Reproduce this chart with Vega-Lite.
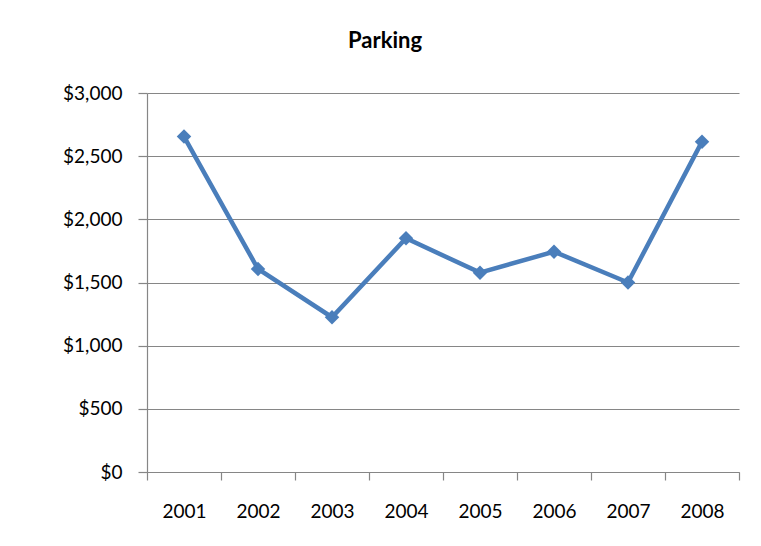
{
  "$schema": "https://vega.github.io/schema/vega-lite/v6.json",
  "width": 592,
  "height": 379,
  "autosize": "none",
  "padding": {"left": 147, "top": 93, "right": 22, "bottom": 74},
  "background": "white",
  "title": {"text": "Parking", "fontSize": 22, "fontWeight": "bold", "font": "Lato", "color": "#000000", "offset": 31, "dx": -58, "anchor": "middle"},
  "data": {"values": [
    {"year": "2001", "cost": 2655},
    {"year": "2002", "cost": 1607},
    {"year": "2003", "cost": 1225},
    {"year": "2004", "cost": 1850},
    {"year": "2005", "cost": 1578},
    {"year": "2006", "cost": 1744},
    {"year": "2007", "cost": 1500},
    {"year": "2008", "cost": 2615}
  ]},
  "config": {
    "view": {"stroke": null},
    "font": "Lato",
    "axis": {"labelFont": "Lato", "labelFontSize": 19, "labelColor": "#000000", "domainColor": "#868686", "tickColor": "#868686", "gridColor": "#868686", "domainWidth": 1.2, "tickWidth": 1.2, "title": null}
  },
  "encoding": {
    "x": {"field": "year", "type": "ordinal", "scale": {"paddingInner": 0, "paddingOuter": 0},
      "axis": {"labelAngle": 0, "tickBand": "extent", "tickSize": 8, "labelPadding": 22, "grid": false}},
    "y": {"field": "cost", "type": "quantitative", "scale": {"domain": [0, 3000]},
      "axis": {"values": [0, 500, 1000, 1500, 2000, 2500, 3000], "format": "$,.0f", "tickSize": 9, "labelPadding": 16, "grid": true, "gridWidth": 1.2}}
  },
  "layer": [
    {"mark": {"type": "line", "color": "#4a7ebb", "strokeWidth": 4.5}},
    {"mark": {"type": "point", "shape": "diamond", "filled": true, "color": "#4a7ebb", "size": 210, "opacity": 1}}
  ]
}
